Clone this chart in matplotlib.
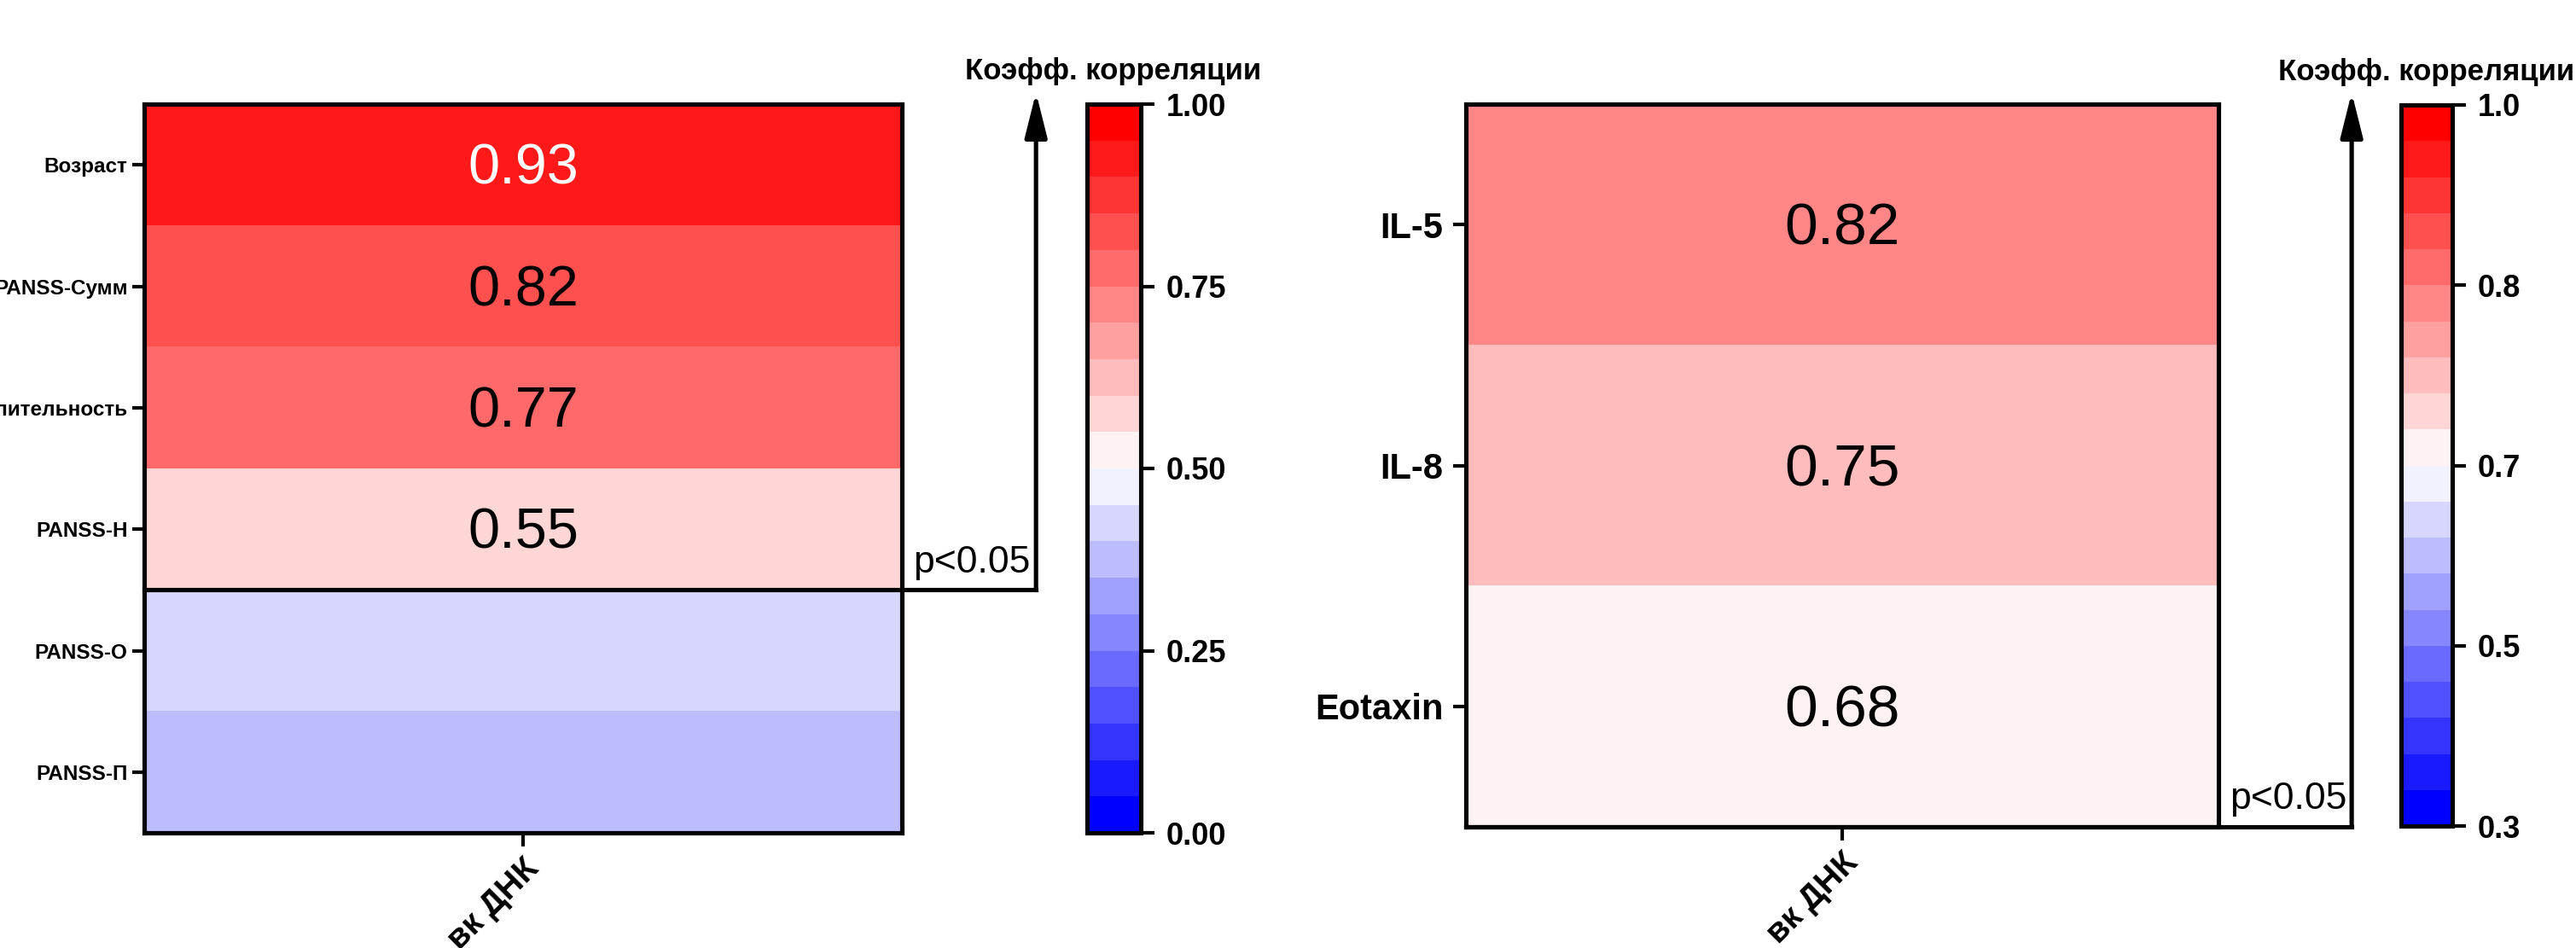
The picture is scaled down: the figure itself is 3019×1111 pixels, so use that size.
import numpy as np
import matplotlib
matplotlib.use("Agg")
import matplotlib.pyplot as plt
from matplotlib.colors import ListedColormap
from matplotlib.transforms import blended_transform_factory

plt.rcParams['font.family'] = ['Liberation Sans', 'DejaVu Sans']

# left panel: clinical scores
left_rows = ['Возраст', 'PANSS-Сумм', 'Длительность', 'PANSS-Н', 'PANSS-О', 'PANSS-П']
left_values = [0.93, 0.82, 0.77, 0.55, 0.42, 0.37]
left_n_sig = 4
left_range = (0.0, 1.0)
left_cbar_labels = ['0.00', '0.25', '0.50', '0.75', '1.00']

# right panel: cytokines
right_rows = ['IL-5', 'IL-8', 'Eotaxin']
right_values = [0.82, 0.75, 0.68]
right_n_sig = 3
right_range = (0.3, 1.0)
right_cbar_labels = ['0.3', '0.5', '0.7', '0.8', '1.0']

col_labels = ['вк ДНК']
cbar_title = 'Коэфф. корреляции'
sig_text = 'p<0.05'

# 20 discrete steps blue -> white -> red
cmap = ListedColormap(plt.get_cmap('bwr')(np.linspace(0, 1, 20)))

LW = 3.7


def draw_panel(ax, cax, rows, values, n_sig, vrange, cbar_labels,
               row_size, cell_size, row_pad, row_ticklen):
    vmin, vmax = vrange
    data = np.array(values).reshape(-1, 1)
    im = ax.imshow(data, cmap=cmap, vmin=vmin, vmax=vmax, aspect='auto',
                   interpolation='nearest')

    ax.set_yticks(range(len(rows)))
    ax.set_yticklabels(rows, fontsize=row_size, fontweight='bold')
    ax.set_xticks(range(len(col_labels)))
    ax.set_xticklabels(col_labels, rotation=45, ha='right', va='top',
                       rotation_mode='anchor', fontsize=28, fontweight='bold')
    ax.tick_params(axis='y', length=row_ticklen, width=3, pad=row_pad)
    ax.tick_params(axis='x', length=11.5, width=3, pad=6)
    for s in ax.spines.values():
        s.set_linewidth(LW)

    for i in range(n_sig):
        v = values[i]
        ax.annotate(f'{v:.2f}', xy=(0, i), xytext=(0, -4), textcoords='offset points',
                    ha='center', va='center', fontsize=cell_size,
                    color='white' if v > 0.9 else 'black')

    # significance bracket with arrow
    y_b = n_sig - 0.5
    x_arr = 1.177
    trans = blended_transform_factory(ax.transAxes, ax.transData)
    ax.plot([0, x_arr], [y_b, y_b], transform=trans, color='black', lw=LW,
            clip_on=False, solid_capstyle='projecting', zorder=5)
    ax.annotate('', xy=(x_arr, 1.016), xycoords='axes fraction',
                xytext=(x_arr, y_b), textcoords=trans,
                arrowprops=dict(arrowstyle='-|>,head_length=0.8,head_width=0.2',
                                mutation_scale=40, lw=LW, color='black',
                                shrinkA=0, shrinkB=0),
                annotation_clip=False)
    ax.annotate(sig_text, xy=(1.015, y_b), xycoords=trans, xytext=(0, 15),
                textcoords='offset points', va='baseline', ha='left',
                fontsize=32, annotation_clip=False)

    cb = plt.colorbar(im, cax=cax)
    cb.set_ticks(np.linspace(vmin, vmax, len(cbar_labels)))
    cb.set_ticklabels(cbar_labels)
    cb.outline.set_linewidth(LW)
    cax.tick_params(labelsize=26, width=3, length=11.5, pad=10)
    for t in cax.get_yticklabels():
        t.set_fontweight('bold')
    cax.set_title(cbar_title, fontsize=25, fontweight='bold', pad=21)


fig = plt.figure(figsize=(30.19, 11.11), dpi=100)
W, H = 3019, 1111

ax1 = fig.add_axes([169 / W, 1 - 976 / H, 888 / W, 854 / H])
cax1 = fig.add_axes([1273.5 / W, 1 - 976 / H, 63 / W, 854 / H])
draw_panel(ax1, cax1, left_rows, left_values, left_n_sig, left_range,
           left_cbar_labels, row_size=17.5, cell_size=48, row_pad=4, row_ticklen=10)

ax2 = fig.add_axes([1718 / W, 1 - 969 / H, 882 / W, 847 / H])
cax2 = fig.add_axes([2813.5 / W, 1 - 968 / H, 60 / W, 845 / H])
draw_panel(ax2, cax2, right_rows, right_values, right_n_sig, right_range,
           right_cbar_labels, row_size=30, cell_size=50, row_pad=8, row_ticklen=11)

fig.savefig('out.png', dpi=100, facecolor='white')
